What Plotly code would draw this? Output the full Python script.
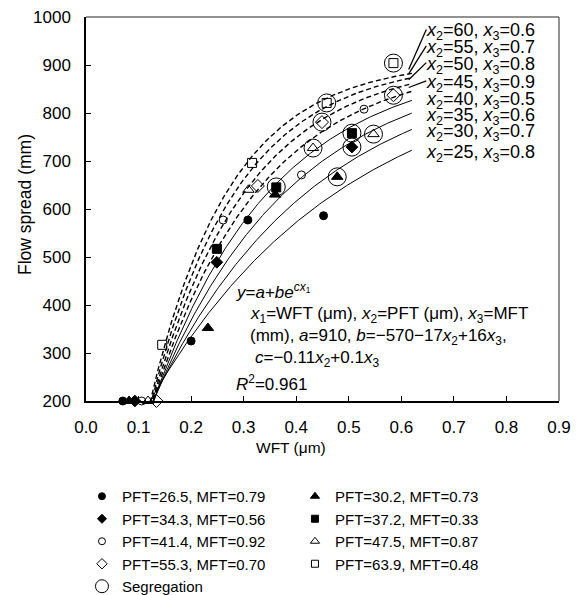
import numpy as np
import plotly.graph_objects as go

# ---- fitted model printed on the chart: y = a + b*exp(c*x1)
a_coef = 910
b_terms = [-570, -17, 16]      # b = -570 - 17*x2 + 16*x3
c_terms = [-0.11, 0.1]         # c = -0.11*x2 + 0.1*x3
curve_x2 = [60, 55, 50, 45, 40, 35, 30, 25]
curve_x3 = [0.6, 0.7, 0.8, 0.9, 0.5, 0.6, 0.7, 0.8]
curve_dashed = [True, True, True, True, False, False, False, False]
wft_min, wft_max = 0.115, 0.62

# ---- measured data
series_names = ["PFT=26.5, MFT=0.79", "PFT=30.2, MFT=0.73",
                "PFT=34.3, MFT=0.56", "PFT=37.2, MFT=0.33",
                "PFT=41.4, MFT=0.92", "PFT=47.5, MFT=0.87",
                "PFT=55.3, MFT=0.70", "PFT=63.9, MFT=0.48"]
series_wft = [[0.070, 0.200, 0.308, 0.452],
              [0.082, 0.232, 0.360, 0.478],
              [0.093, 0.249, 0.506],
              [0.249, 0.362, 0.506],
              [0.106, 0.261, 0.410, 0.529],
              [0.118, 0.309, 0.432, 0.547],
              [0.134, 0.327, 0.449, 0.585],
              [0.145, 0.316, 0.458, 0.585]]
series_flow = [[200, 325, 577, 586],
               [200, 352, 630, 667],
               [200, 489, 729],
               [517, 645, 758],
               [200, 577, 671, 808],
               [200, 640, 727, 756],
               [200, 648, 781, 837],
               [317, 696, 821, 904]]
seg_wft = [0.362, 0.478, 0.506, 0.506, 0.432, 0.547, 0.449, 0.585, 0.458, 0.585]
seg_flow = [646, 667, 758, 729, 727, 756, 781, 837, 821, 904]

x_ticks = [0.0, 0.1, 0.2, 0.3, 0.4, 0.5, 0.6, 0.7, 0.8, 0.9]
y_ticks = [200, 300, 400, 500, 600, 700, 800, 900, 1000]

# ---- styles
FONT = "Arial, 'Liberation Sans', sans-serif"
symbols = ["circle", "triangle-up", "diamond", "square",
           "circle-open", "triangle-up-open", "diamond-open", "square-open"]
sizes = [8, 10, 9, 9, 8, 10, 10, 9]
legend_sizes = [7, 8, 7, 7, 7, 8, 8, 7]

fig = go.Figure()

xs = np.linspace(wft_min, wft_max, 200)
ends = []
for x2, x3, dashed in zip(curve_x2, curve_x3, curve_dashed):
    b = b_terms[0] + b_terms[1] * x2 + b_terms[2] * x3
    c = c_terms[0] * x2 + c_terms[1] * x3
    ys = a_coef + b * np.exp(c * xs)
    ends.append((xs[-1], ys[-1]))
    fig.add_trace(go.Scatter(
        x=xs, y=ys, mode="lines", showlegend=False, hoverinfo="skip",
        line=dict(color="black", width=1.4 if dashed else 1.0,
                  dash="5px,3px" if dashed else "solid")))

for name, sx, sy, sym, sz in zip(series_names, series_wft, series_flow, symbols, sizes):
    fig.add_trace(go.Scatter(
        x=sx, y=sy, mode="markers", name=name, cliponaxis=False, showlegend=False,
        marker=dict(symbol=sym, size=sz, color="black",
                    line=dict(color="black", width=1))))

fig.add_trace(go.Scatter(
    x=seg_wft, y=seg_flow, mode="markers", name="Segregation", cliponaxis=False,
    showlegend=False,
    marker=dict(symbol="circle-open", size=18, color="black",
                line=dict(color="black", width=1))))

# legend entries (smaller symbols, like the reference key)
for name, sym, sz in zip(series_names + ["Segregation"], symbols + ["circle-open"],
                         legend_sizes + [13]):
    fig.add_trace(go.Scatter(
        x=[None], y=[None], mode="markers", name=name, showlegend=True,
        marker=dict(symbol=sym, size=sz, color="black",
                    line=dict(color="black", width=1))))

# ---- labels for curves
label_y = [969, 935, 900, 862, 827, 792, 760, 715]
label_x = 0.6435
annotations = []
for i, (x2, x3) in enumerate(zip(curve_x2, curve_x3)):
    annotations.append(dict(
        x=label_x, y=label_y[i], xref="x", yref="y", xanchor="left", yanchor="middle",
        text=f"<i>x</i><sub>2</sub>={x2}, <i>x</i><sub>3</sub>={x3}",
        showarrow=False, font=dict(family=FONT, size=18, color="black")))

shapes = []
for i in range(4):
    ex, ey = ends[i]
    shapes.append(dict(type="line", xref="x", yref="y",
                       x0=ex - 0.006, y0=ey + 8, x1=label_x + 0.004, y1=label_y[i] + 5,
                       line=dict(color="black", width=1.3)))

# ---- equation block
eq_lines = [
    ("<i>y</i>=<i>a</i>+<i>be</i><sup><i>cx</i><sub>1</sub></sup>", 0.2810, 430),
    ("<i>x</i><sub>1</sub>=WFT (μm), <i>x</i><sub>2</sub>=PFT (μm), <i>x</i><sub>3</sub>=MFT", 0.3080, 379),
    ("(mm), <i>a</i>=910, <i>b</i>=−570−17<i>x</i><sub>2</sub>+16<i>x</i><sub>3</sub>,", 0.3080, 333),
    ("<i>c</i>=−0.11<i>x</i><sub>2</sub>+0.1<i>x</i><sub>3</sub>", 0.3180, 288),
    ("<i>R</i><sup>2</sup>=0.961", 0.2810, 238),
]
for txt, ex, ey in eq_lines:
    annotations.append(dict(x=ex, y=ey, xref="x", yref="y", xanchor="left", yanchor="middle",
                            text=txt, showarrow=False,
                            font=dict(family=FONT, size=17, color="black")))

# axis titles
annotations.append(dict(x=(291 - 86) / 473, y=(401 - 447) / 384, xref="paper", yref="paper",
                        text="WFT (μm)", showarrow=False, xanchor="center", yanchor="middle",
                        font=dict(family=FONT, size=15.5, color="black")))
annotations.append(dict(x=(25 - 86) / 473, y=(401 - 205) / 384, xref="paper", yref="paper",
                        text="Flow spread (mm)", showarrow=False, textangle=-90,
                        xanchor="center", yanchor="middle",
                        font=dict(family=FONT, size=17.5, color="black")))

# top / right frame in gray
shapes.append(dict(type="line", xref="paper", yref="paper", x0=0, y0=1, x1=1, y1=1,
                   line=dict(color="#6e6e6e", width=1.5)))
shapes.append(dict(type="line", xref="paper", yref="paper", x0=1, y0=0, x1=1, y1=1,
                   line=dict(color="#6e6e6e", width=1.5)))

fig.update_layout(
    width=578, height=595,
    margin=dict(l=86, r=19, t=17, b=194, autoexpand=False),
    paper_bgcolor="white", plot_bgcolor="white",
    font=dict(family=FONT, size=16, color="black"),
    annotations=annotations, shapes=shapes,
    legend=dict(orientation="h", x=-0.0085, xanchor="left", y=-0.2057, yanchor="top",
                entrywidth=168, font=dict(family=FONT, size=15, color="black"),
                bgcolor="rgba(0,0,0,0)", itemwidth=30),
    xaxis=dict(range=[0, 0.9], tickvals=x_ticks, ticktext=[f"{v:.1f}" for v in x_ticks],
               showgrid=False, zeroline=False, showline=True, linecolor="black", linewidth=1.5,
               ticks="inside", ticklen=5, tickcolor="black", tickwidth=1,
               tickfont=dict(family=FONT, size=17, color="black"), ticklabelstandoff=10),
    yaxis=dict(range=[200, 1000], tickvals=y_ticks,
               showgrid=False, zeroline=False, showline=True, linecolor="black", linewidth=1.5,
               ticks="inside", ticklen=5, tickcolor="black", tickwidth=1,
               tickfont=dict(family=FONT, size=17, color="black"), ticklabelstandoff=10),
)

fig.write_html("out.html")
